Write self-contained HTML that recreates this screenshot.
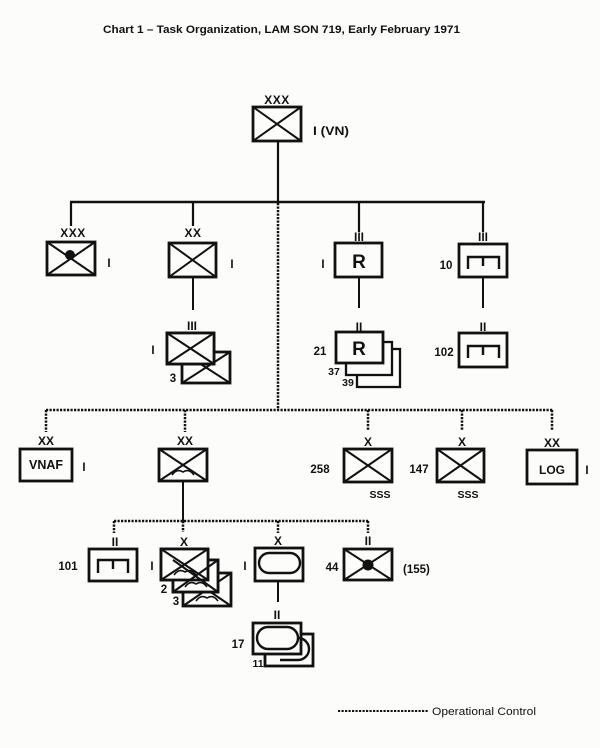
<!DOCTYPE html>
<html><head><meta charset="utf-8"><style>
html,body{margin:0;padding:0;background:#fcfcfb;}
svg{display:block;}
text{font-family:"Liberation Sans",Arial,sans-serif;fill:#111;}
.b{font-weight:bold;}
</style></head><body>
<svg width="600" height="748" viewBox="0 0 600 748" xmlns="http://www.w3.org/2000/svg">
<rect x="0" y="0" width="600" height="748" fill="#fcfcfb"/>
<!-- Title -->
<text x="103" y="33" class="b" font-size="11" textLength="357" lengthAdjust="spacingAndGlyphs">Chart 1 – Task Organization, LAM SON 719, Early February 1971</text>

<g stroke="#111" fill="none" stroke-linecap="butt">
<!-- solid tree lines -->
<line x1="278" y1="141" x2="278" y2="202" stroke-width="2.2"/>
<line x1="70" y1="202" x2="485" y2="202" stroke-width="2.5"/>
<line x1="71" y1="202" x2="71" y2="226" stroke-width="2.2"/>
<line x1="193" y1="202" x2="193" y2="226" stroke-width="2.2"/>
<line x1="359" y1="202" x2="359" y2="232" stroke-width="2.2"/>
<line x1="483" y1="202" x2="483" y2="232" stroke-width="2.2"/>
<line x1="193" y1="277" x2="193" y2="310" stroke-width="2"/>
<line x1="359" y1="277" x2="359" y2="308" stroke-width="2"/>
<line x1="483" y1="277" x2="483" y2="308" stroke-width="2"/>
<line x1="183" y1="481" x2="183" y2="521" stroke-width="2"/>
<line x1="278" y1="581" x2="278" y2="602" stroke-width="2"/>

<!-- dotted lines -->
<g stroke-width="2.5" stroke-dasharray="2.2 1.3">
<line x1="278" y1="203" x2="278" y2="410"/>
<line x1="46" y1="410" x2="553" y2="410"/>
<line x1="46" y1="410" x2="46" y2="432"/>
<line x1="185" y1="410" x2="185" y2="432"/>
<line x1="368" y1="410" x2="368" y2="431"/>
<line x1="462" y1="410" x2="462" y2="431"/>
<line x1="552" y1="410" x2="552" y2="431"/>
<line x1="114" y1="521" x2="369" y2="521"/>
<line x1="114" y1="521" x2="114" y2="533"/>
<line x1="183" y1="521" x2="183" y2="532"/>
<line x1="278" y1="521" x2="278" y2="533"/>
<line x1="368" y1="521" x2="368" y2="533"/>
<line x1="338" y1="711" x2="428" y2="711" stroke-width="2"/>
</g>
</g>

<g stroke="#111" fill="#fcfcfb" stroke-width="2.8">
<!-- top corps -->
<rect x="253" y="107" width="48" height="34"/>
<!-- Node A -->
<rect x="47" y="242" width="48" height="33"/>
<!-- Node B -->
<rect x="169" y="243" width="47" height="34"/>
<!-- B sub stack -->
<rect x="182" y="352" width="48" height="31"/>
<rect x="167" y="333" width="47" height="31"/>
<!-- R -->
<rect x="335" y="243" width="47" height="34"/>
<!-- R stack -->
<rect x="357" y="349" width="43" height="38" stroke-width="2.3"/>
<rect x="346" y="342" width="46" height="33" stroke-width="2.3"/>
<rect x="336" y="332" width="47" height="31"/>
<!-- 10 -->
<rect x="459" y="244" width="48" height="33"/>
<!-- 102 -->
<rect x="459" y="333" width="48" height="34"/>
<!-- VNAF -->
<rect x="20" y="449" width="52" height="32"/>
<!-- airborne div -->
<rect x="159" y="449" width="48" height="32"/>
<!-- 258 -->
<rect x="344" y="449" width="48" height="33"/>
<!-- 147 -->
<rect x="437" y="449" width="47" height="33"/>
<!-- LOG -->
<rect x="527" y="450" width="50" height="34"/>
<!-- 101 -->
<rect x="89" y="549" width="48" height="32"/>
<!-- airborne brigades -->
<rect x="183" y="573" width="48" height="33"/>
<rect x="173" y="560" width="45" height="32"/>
<rect x="161" y="549" width="47" height="31"/>
<!-- armor -->
<rect x="255" y="548" width="48" height="33"/>
<!-- 17/11 -->
<rect x="265" y="634" width="48" height="32"/>
<rect x="253" y="623" width="48" height="31"/>
<!-- 44 -->
<rect x="344" y="549" width="48" height="31"/>
</g>

<!-- X diagonals -->
<g stroke="#111" stroke-width="2" fill="none">
<path d="M253 107L301 141M301 107L253 141"/>
<path d="M47 242L95 275M95 242L47 275"/>
<path d="M169 243L216 277M216 243L169 277"/>
<path d="M182 352L230 383M230 352L182 383"/>
<path d="M167 333L214 364M214 333L167 364"/>
<path d="M159 449L207 481M207 449L159 481"/>
<path d="M344 449L392 482M392 449L344 482"/>
<path d="M437 449L484 482M484 449L437 482"/>
<path d="M183 573L231 606M231 573L183 606"/>
<path d="M173 560L218 592M218 560L173 592"/>
<path d="M161 549L208 580M208 549L161 580"/>
<path d="M344 549L392 580M392 549L344 580"/>
</g>
<!-- re-cover overlapped parts of back boxes: front boxes drawn after, but diagonals of back boxes must be hidden under front boxes -->
<g fill="#fcfcfb" stroke="#111" stroke-width="2.8">
<rect x="173" y="560" width="45" height="32"/>
<rect x="161" y="549" width="47" height="31"/>
<rect x="167" y="333" width="47" height="31"/>
</g>
<g stroke="#111" stroke-width="2" fill="none">
<path d="M173 560L218 592M218 560L173 592"/>
<path d="M161 549L208 580M208 549L161 580"/>
<path d="M167 333L214 364M214 333L167 364"/>
</g>

<!-- dots -->
<circle cx="70" cy="255" r="5" fill="#111"/>
<circle cx="368" cy="565" r="5.5" fill="#111"/>

<!-- airborne wings -->
<g stroke="#111" stroke-width="1.6" fill="none">
<path d="M172 475Q177 468 183 472Q189 468 194 475"/>
<path d="M174 575Q179 568 185 572Q191 568 196 575"/>
<path d="M185 587Q190 580 196 584Q202 580 207 587"/>
<path d="M196 601Q201 594 207 598Q213 594 218 601"/>
</g>

<!-- engineer symbols -->
<g stroke="#111" stroke-width="2.4" fill="none">
<path d="M468 269V257H499V269M483 257V266"/>
<path d="M468 358V346H499V358M483 346V355"/>
<path d="M98 573V560H128V573M113 560V569"/>
</g>

<!-- ovals -->
<g stroke="#111" stroke-width="2.4" fill="none">
<rect x="259" y="553" width="41" height="20" rx="10"/>
<path d="M298 638A11 11 0 0 1 298 660H280" />
<rect x="257" y="627" width="41" height="22" rx="11" fill="#fcfcfb"/>
</g>

<!-- echelon labels -->
<g class="b" font-size="12" text-anchor="middle">
<text x="277" y="104" letter-spacing="0.5">XXX</text>
<text x="73" y="237" letter-spacing="0.5">XXX</text>
<text x="193" y="237" letter-spacing="0.5">XX</text>
<text x="359" y="241">III</text>
<text x="483" y="241">III</text>
<text x="192" y="330">III</text>
<text x="359" y="331">II</text>
<text x="483" y="331">II</text>
<text x="46" y="445">XX</text>
<text x="185" y="445">XX</text>
<text x="368" y="446">X</text>
<text x="462" y="446">X</text>
<text x="552" y="447">XX</text>
<text x="115" y="546">II</text>
<text x="184" y="546">X</text>
<text x="278" y="545">X</text>
<text x="368" y="545">II</text>
<text x="277" y="619">II</text>
</g>

<!-- unit designations -->
<g class="b" font-size="11.5" text-anchor="middle">
<text x="109" y="267">I</text>
<text x="232" y="268">I</text>
<text x="153" y="354">I</text>
<text x="173" y="382">3</text>
<text x="323" y="268">I</text>
<text x="320" y="355">21</text>
<text x="334" y="375" font-size="10.5">37</text>
<text x="348" y="386" font-size="10.5">39</text>
<text x="446" y="269">10</text>
<text x="444" y="356">102</text>
<text x="84" y="471">I</text>
<text x="320" y="473">258</text>
<text x="419" y="473">147</text>
<text x="587" y="474">I</text>
<text x="380" y="498" font-size="10.5">SSS</text>
<text x="468" y="498" font-size="10.5">SSS</text>
<text x="68" y="570">101</text>
<text x="152" y="570">I</text>
<text x="164" y="593">2</text>
<text x="176" y="605">3</text>
<text x="245" y="570">I</text>
<text x="332" y="571">44</text>
<text x="238" y="648">17</text>
<text x="258" y="667" font-size="10.5">11</text>
<text x="359" y="268" font-size="19">R</text>
<text x="359" y="355" font-size="19">R</text>
<text x="46" y="469" font-size="12.5">VNAF</text>
<text x="552" y="474" font-size="12">LOG</text>
</g>

<text x="313" y="135" font-size="11.5" font-weight="bold" textLength="36" lengthAdjust="spacingAndGlyphs">I (VN)</text>
<text x="403" y="573" font-size="11.5" font-weight="bold">(155)</text>
<text x="432" y="715" font-size="11" textLength="104" lengthAdjust="spacingAndGlyphs">Operational Control</text>
</svg>
</body></html>
